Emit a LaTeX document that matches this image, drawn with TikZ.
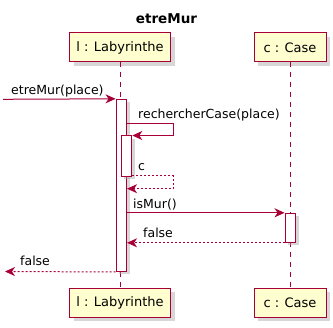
\documentclass[tikz,border=0pt]{standalone}
\usepackage{fontspec}
\setmainfont{DejaVu Sans}
\usetikzlibrary{arrows.meta,shadows}
\definecolor{umlred}{HTML}{A80036}
\definecolor{umlfill}{HTML}{FEFECE}
\tikzset{
  font={\fontsize{12.5pt}{15pt}\selectfont},
  actor/.style={draw=umlred, fill=umlfill, line width=1pt, minimum height=29pt,
    inner sep=0pt, font={\fontsize{13pt}{15pt}\selectfont},
    drop shadow={shadow xshift=4pt, shadow yshift=-4pt, fill=black!35, opacity=0.45}},
  bar/.style={draw=umlred, fill=white, line width=1pt, minimum width=10.5pt, inner sep=0pt,
    drop shadow={shadow xshift=3pt, shadow yshift=-3pt, fill=black!35, opacity=0.45}},
  lifeline/.style={umlred, line width=1pt, dash pattern=on 5pt off 5pt},
  msg/.style={umlred, line width=1pt, -{Stealth[length=10pt, width=9pt, inset=3pt]}},
  reply/.style={msg, dash pattern=on 2pt off 2pt},
  lbl/.style={anchor=base west, inner sep=0pt}}

\begin{document}
\begin{tikzpicture}[x=1pt, y=-1pt]
\useasboundingbox (0,0) rectangle (333,328);
\node[anchor=base, font={\fontsize{13.5pt}{15pt}\selectfont\bfseries}] (title) at (166.5,23.3) {etreMur};

\node[actor, minimum width=101pt] (lTop) at (120,47.5) {l : Labyrinthe};
\node[actor, minimum width=72pt] (cTop) at (290,47.5) {c : Case};
\node[actor, minimum width=101pt] (lBot) at (120,303) {l : Labyrinthe};
\node[actor, minimum width=72pt] (cBot) at (290,303) {c : Case};
\draw[lifeline] (lTop.south) -- (lBot.north);
\draw[lifeline] (cTop.south) -- (cBot.north);

\node[bar, minimum height=172.2pt] (lAct) at (121.3,185.4) {};
\node[bar, minimum height=40.5pt] (nAct) at (126.5,156.25) {};
\node[bar, minimum height=29pt] (cAct) at (290.3,227.8) {};

\coordinate (in) at (3,99.3);
\coordinate (out) at (5,271.5);
\draw[msg] (in) -- (lAct.north west);
\node[lbl] at (11,95) {etreMur(place)};

\draw[msg] (lAct.east |- 0,123.3) -- (173.3,123.3) |- (nAct.north east);
\node[lbl] at (138,118.6) {rechercherCase(place)};

\draw[reply] (nAct.east |- 0,175.6) -- (173.3,175.6) |- (lAct.east |- 0,188.7);
\node[lbl] at (138,171) {c};

\draw[msg] (lAct.east |- cAct.north west) -- (cAct.north west);
\node[lbl] at (133,208.5) {isMur()};

\draw[reply] (cAct.south west) -- (lAct.east |- cAct.south west);
\node[lbl] at (143,237.3) {false};

\draw[reply] (lAct.south west) -- (out);
\node[lbl] at (20,266) {false};
\end{tikzpicture}
\end{document}
